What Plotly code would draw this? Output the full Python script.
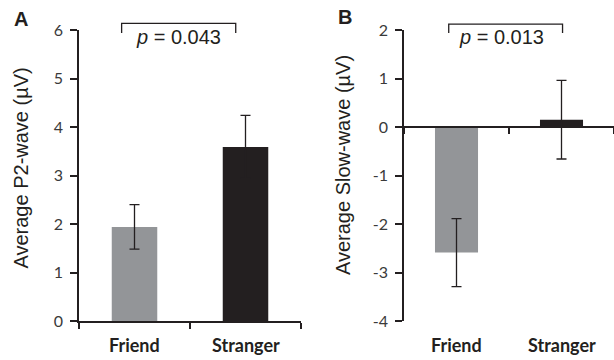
import plotly.graph_objects as go

categories = ["Friend", "Stranger"]
p2_means = [1.94, 3.59]
p2_errors = [0.46, 0.65]
slow_means = [-2.59, 0.15]
slow_errors = [0.70, 0.81]
p2_ticks = [0, 1, 2, 3, 4, 5, 6]
slow_ticks = [-4, -3, -2, -1, 0, 1, 2]
bar_colors = ["#939598", "#231f20"]
p_texts = ["<i>p</i> = 0.043", "<i>p</i> = 0.013"]
y_titles = ["Average P2-wave (µV)", "Average Slow-wave (µV)"]
panel_letters = ["A", "B"]

W, H = 614, 360
mt, mb = 30, 39
ph = H - mt - mb
xpos = [0, 1]

AX = "#231f20"
fig = go.Figure()

for i, (means, errs) in enumerate([(p2_means, p2_errors), (slow_means, slow_errors)]):
    fig.add_trace(go.Bar(
        x=xpos, y=means, width=0.41,
        marker=dict(color=bar_colors, line=dict(width=0)),
        error_y=dict(type="data", array=errs, visible=True, color=AX,
                     thickness=1.3, width=5),
        xaxis="x" if i == 0 else "x2", yaxis="y" if i == 0 else "y2",
        showlegend=False, hoverinfo="skip",
    ))

tickfont = dict(family="Lato, Liberation Sans, Arial", size=16, color="#3a3a3a")
common_x = dict(range=[-0.5, 1.5], showgrid=False, zeroline=False, showline=True,
                linecolor=AX, linewidth=1.5, showticklabels=False, ticks="",
                fixedrange=True,
                minor=dict(tickmode="array", tickvals=[-0.5, 0.5, 1.5], ticks="outside",
                           ticklen=6, tickwidth=1.5, tickcolor=AX))
common_y = dict(showgrid=False, zeroline=False, showline=True, linecolor=AX,
                linewidth=1.5, ticks="outside", ticklen=7, tickwidth=1.5,
                tickcolor=AX, tickmode="array", tickfont=tickfont,
                ticklabelstandoff=4)

fig.update_layout(
    width=W, height=H,
    margin=dict(l=0, r=0, t=mt, b=mb),
    paper_bgcolor="white", plot_bgcolor="white",
    xaxis=dict(domain=[79 / W, 301 / W], anchor="y", **common_x),
    yaxis=dict(domain=[0, 1], anchor="x", range=[0, 6], tickvals=p2_ticks,
               ticktext=[str(t) for t in p2_ticks], **common_y),
    xaxis2=dict(domain=[404 / W, 1.0], anchor="free", position=4 / 6, **common_x),
    yaxis2=dict(domain=[0, 1], anchor="x2", range=[-4, 2], tickvals=slow_ticks,
                ticktext=[str(t) for t in slow_ticks], **common_y),
)

annotations = []
shapes = []
brackets = [(0.192, 0.706, 1.023), (0.213, 0.755, 1.020)]
ptext_x = [0.45, 0.463]
title_pos = [(21, 0.524), (343, 0.536)]
letter_pos = [(20.5, 19.5), (344.5, 17.5)]
for i in range(2):
    xr = "x" if i == 0 else "x2"
    yr = "y" if i == 0 else "y2"
    for xv, cat in zip(xpos, categories):
        annotations.append(dict(x=xv, xref=xr, y=-24 / ph, yref="paper", text=cat,
                                showarrow=False, yanchor="middle",
                                font=dict(family="Lato, Liberation Sans, Arial",
                                          size=18, color="#231f20", weight="bold")))
    x0, x1, yt = brackets[i]
    shapes.append(dict(type="path", xref=f"{xr} domain", yref=f"{yr} domain",
                       path=f"M {x0} 0.99 L {x0} {yt} L {x1} {yt} L {x1} 0.99",
                       line=dict(color=AX, width=1.3)))
    annotations.append(dict(x=ptext_x[i], xref=f"{xr} domain", y=(321 - 37) / ph,
                            yref="paper", text=p_texts[i], showarrow=False,
                            yanchor="middle",
                            font=dict(family="Liberation Sans, Arial", size=20,
                                      color="#231f20")))
    tx, ty = title_pos[i]
    annotations.append(dict(x=tx / W, xref="paper", y=ty, yref="paper",
                            text=y_titles[i], textangle=-90, showarrow=False,
                            xanchor="center", yanchor="middle",
                            font=dict(family="Liberation Sans, Arial", size=20,
                                      color="#231f20")))
    lx, ly = letter_pos[i]
    annotations.append(dict(x=lx / W, xref="paper", y=(321 - ly) / ph, yref="paper",
                            text=f"<b>{panel_letters[i]}</b>", showarrow=False,
                            xanchor="center", yanchor="middle",
                            font=dict(family="Liberation Sans, Arial", size=20,
                                      color="#231f20")))

fig.update_layout(annotations=annotations, shapes=shapes)
fig.write_html("out.html")
